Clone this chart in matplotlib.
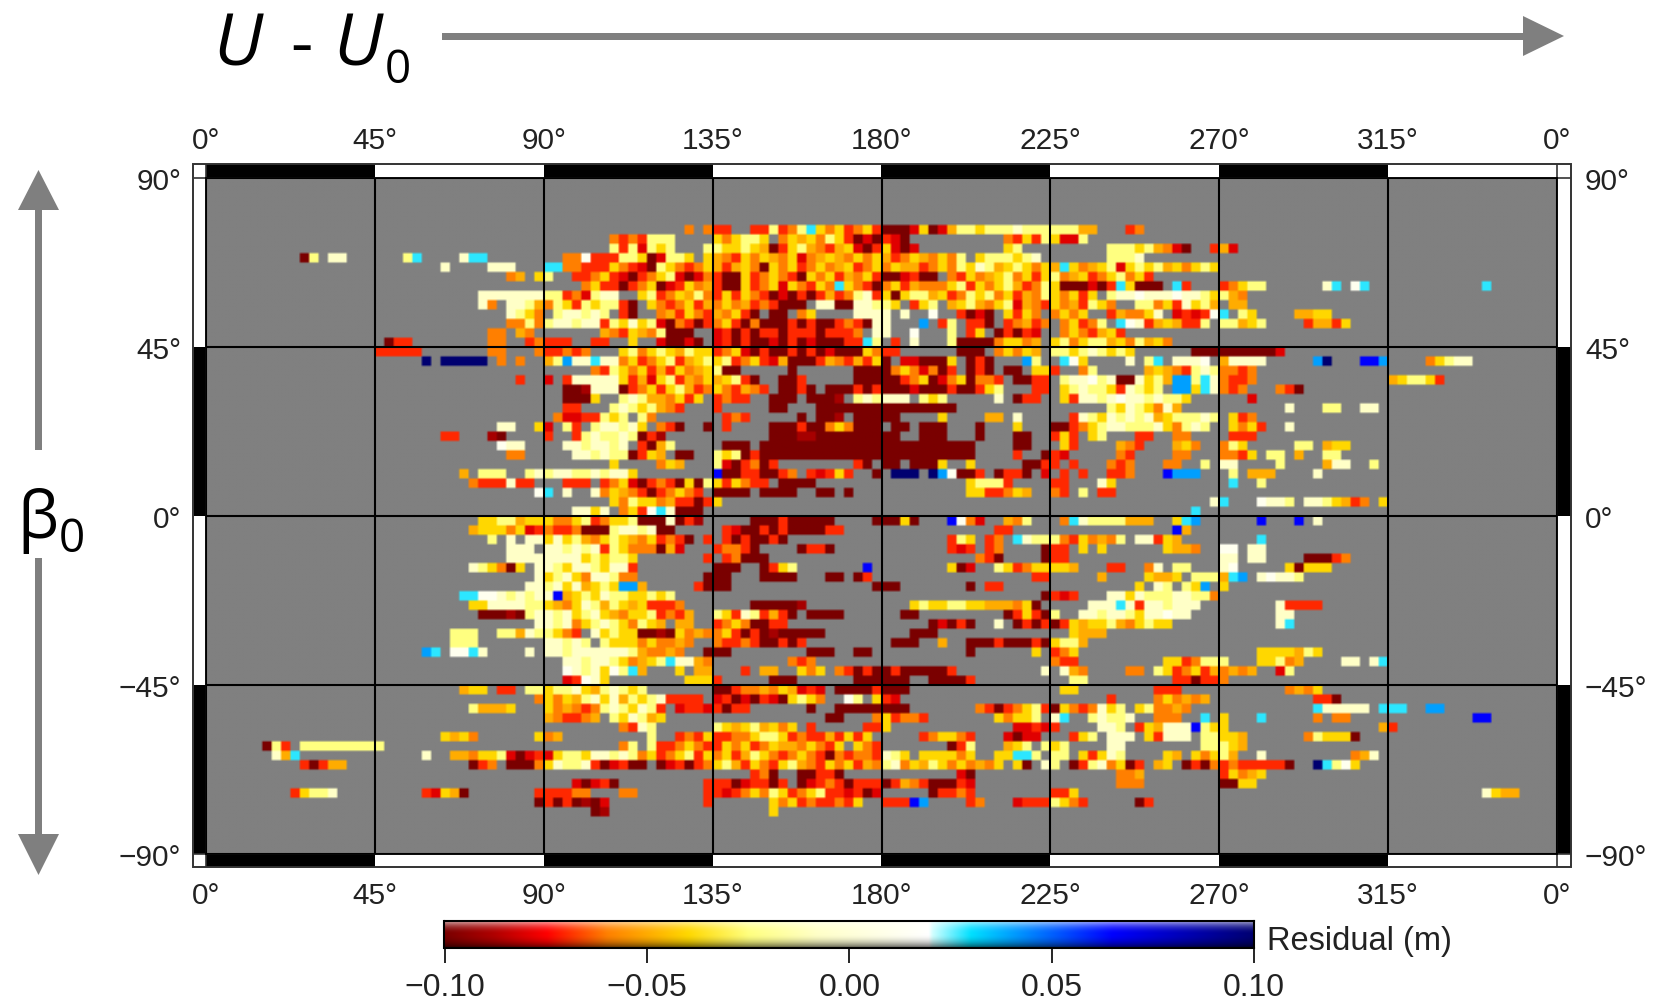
import numpy as np
import matplotlib
matplotlib.use("Agg")
import matplotlib.pyplot as plt
from matplotlib.colors import LinearSegmentedColormap
from matplotlib.patches import Rectangle, Polygon

W, H = 1657, 1005

# residual level (m) for each letter used in the rows below
level = dict(d=-0.10, D=-0.09, r=-0.08, R=-0.07, o=-0.06, g=-0.05, y=-0.04, l=-0.025,
             p=-0.008, w=0.012, c=0.028, s=0.04, b=0.065, n=0.10)

# (band centre latitude, [(start longitude, one letter per 2.5 degrees), ...])
residual_rows = [
 (76.25, [(127.5,"o"),(132.5,"oRR"),(145,"RR"),(150,"lRolcyoyRoyR"),(180,"dddrydrglly"),(207.5,"lllpllllll"),(232.5,"gg"),(245,"Ro")]),
 (73.75, [(107.5,"oRoRl"),(120,"ll"),(135,"yoylly"),(152.5,"oyg"),(160,"yolyR"),(172.5,"drdRrd"),(212.5,"oRyRl"),(225,"yrrl")]),
 (71.25, [(107.5,"lRlrlyl"),(132.5,"llyylyg"),(150,"dRylgoRgyrdRyrdr"),(212.5,"yl"),(240,"lllyl"),(252.5,"gord"),(267.5,"Rgr")]),
 (68.75, [(25,"dl"),(32.5,"pp"),(52.5,"lc"),(67.5,"pc"),(72.5,"c"),(95,"oow"),(102.5,"RRRllydrlly"),(132.5,"ygoRyoygoyrogygoyoygRoygoyol"),(205,"ylllylp"),(240,"lllp")]),
 (66.25, [(62.5,"p"),(75,"ppp"),(90,"cc"),(95,"ooRR"),(105,"RyoRrdlyoR"),(130,"oygRgyodyoyRoyogyRoyoyggRoyo"),(200,"lyplgylyoygcyogylrylylgyoyly")]),
 (63.75, [(80,"og"),(87.5,"yl"),(97.5,"R"),(100,"RoyRrdRoylrdroRd"),(140,"dyRoyoRdyoyRgoyRdyoRdd"),(182.5,"drRdd"),(197.5,"oRyogyloyRylogyRoyloyR")]),
 (61.25, [(100,"oyRRdRoydrRyogRd"),(140,"dyRoyryoRyocyoRdoyRgoo"),(195,"oylRyoylgRolydddrdRcy"),(247.5,"ddd"),(257.5,"cR"),(270,"Royll"),(297.5,"pc"),(305,"wc"),(340,"c")]),
 (58.75, [(72.5,"p"),(75,"ppppp"),(87.5,"pl"),(92.5,"lRorl"),(105,"pp"),(115,"ylRoygloRyR"),(142.5,"yoRdrdRdRgRolpRyd"),(185,"yllgyRolyloyRgolyoyRy"),(240,"lppwpppwpplyll"),(272.5,"go")]),
 (56.25, [(72.5,"po"),(80,"pplgol"),(92.5,"lyRlyll"),(110,"Rd"),(117.5,"yoRoyRgo"),(137.5,"yogRoRddd"),(162.5,"ppdd"),(172.5,"pplly"),(187.5,"Ryl"),(197.5,"gylgoylrgoRyogRlyo"),(247.5,"lloyRpylg"),(272.5,"gg")]),
 (53.75, [(80,"plyo"),(92.5,"lpplpl"),(110,"Rd"),(120,"ogRyoRgoy"),(142.5,"Rd"),(150,"dd"),(157.5,"oy"),(172.5,"pp"),(177.5,"pp"),(186,"p"),(192.5,"w"),(200,"Rdrd"),(212.5,"yRyo"),(225,"oyoy"),(240,"Rgo"),(247.5,"oyp"),(257.5,"rRrRr"),(267.5,"wc"),(275,"ly"),(290,"gg"),(295,"yy")]),
 (51.25, [(80,"oo"),(85,"lo"),(90,"lpplpp"),(105,"Rl"),(110,"ypyly"),(120,"rdoRdRoyRdo"),(147.5,"dddRdRddRoRdd"),(177.5,"pp"),(190,"s"),(195,"R"),(197.5,"l"),(202.5,"RRd"),(212.5,"RogRo"),(227.5,"oyRol"),(242.5,"cwpR"),(252.5,"gyg"),(260,"RRl"),(270,"llgyl"),(292.5,"Rgg"),(300,"Ry")]),
 (48.75, [(75,"oo"),(82.5,"go"),(105,"goRygol"),(122.5,"ddd"),(135,"rRdRdRRdR"),(157.5,"RRdRRR"),(172.5,"o"),(177.5,"pp"),(187.5,"w"),(197.5,"l"),(202.5,"Ry"),(210,"dRdRr"),(227.5,"oyoRgyR")]),
 (46.25, [(47.5,"dRR"),(75,"oo"),(85,"R"),(87.5,"oRRR"),(102.5,"RR"),(112.5,"y"),(120,"rddrd"),(135,"rRdRddrdRdrdddRRo"),(175,"cl"),(182.5,"R"),(187.5,"p"),(197.5,"l"),(200,"dddd"),(210,"oyyog"),(225,"yloyllgyolgyo")]),
 (43.75, [(45,"RRRRR"),(75,"oo"),(87.5,"oRRoRo"),(110,"yloylyglyylR"),(135,"RoyrdRddRdRdrdd"),(172.5,"dyoR"),(182.5,"R"),(200,"ddd"),(210,"oyoyg"),(225,"llylplyly"),(262.5,"dddddddddr")]),
 (41.25, [(57.5,"n"),(62.5,"nnnnn"),(77.5,"o"),(82.5,"o"),(90,"glsp"),(97.5,"ppcpp"),(110,"oyRoylRgyl"),(135,"ylRoyRrgdddRgoR"),(172.5,"gRg"),(177.5,"yd"),(185,"rr"),(190,"ddd"),(197.5,"y"),(202.5,"dRd"),(217.5,"s"),(220,"l"),(227.5,"cw"),(232.5,"y"),(245,"p"),(250,"lc"),(257.5,"ppp"),(265,"w"),(270,"gpppp"),(295,"sn"),(307.5,"bbs"),(325,"oyl"),(332.5,"pp")]),
 (38.75, [(102.5,"oRlyoyRgRyogyo"),(135,"ldd"),(155,"d"),(172.5,"dddd"),(182.5,"o"),(185,"yoro"),(195,"dR"),(202.5,"dRd"),(212.5,"dd"),(220,"yy"),(225,"R"),(232.5,"ol"),(250,"gygy"),(257.5,"oR"),(262.5,"lpl"),(270,"ooRo")]),
 (36.25, [(82.5,"R"),(90,"r"),(95,"Rpppp"),(107.5,"pyRgrylRgoy"),(135,"gylR"),(142.5,"Rd"),(152.5,"ddR"),(172.5,"ddd"),(180,"ddRoydroyd"),(205,"ooR"),(215,"dd"),(220,"RR"),(227.5,"lppwlplyp"),(242.5,"dd"),(250,"ylg"),(257.5,"ss"),(262.5,"lcp"),(270,"oRRo"),(315,"gyllyR")]),
 (33.75, [(95,"ddDpppp"),(110,"dRoyRylgRoy"),(137.5,"oRgoR"),(152.5,"ddRd"),(165,"dddRdRdd"),(180,"dddrdddRddlyl"),(205,"R"),(220,"RR"),(227.5,"ylpllyRplyl"),(257.5,"ssy"),(265,"cp"),(270,"oRo"),(285,"oRd")]),
 (31.25, [(95,"dddy"),(110,"lplg"),(120,"goy"),(127.5,"Ry"),(135,"RoRR"),(150,"ddd"),(160,"dddD"),(172.5,"lpl"),(180,"ppp"),(190,"lyl"),(210,"p"),(215,"dRR"),(227.5,"yRpplpwpplplly"),(277.5,"r")]),
 (28.75, [(95,"RR"),(107.5,"lplyl"),(120,"go"),(125,"R"),(135,"R"),(150,"dd"),(162.5,"dddddd"),(177.5,"dddddd"),(190,"dddd"),(240,"lyplyopg"),(287.5,"p"),(297.5,"ll"),(307.5,"pp")]),
 (26.25, [(92.5,"orrR"),(102.5,"Rlyl"),(115,"lo"),(137.5,"RoR"),(157.5,"d"),(162.5,"ddD"),(172.5,"dddd"),(180,"dd"),(195,"y"),(207.5,"gg"),(215,"p"),(230,"Rplyplpl"),(250,"pgylllpl"),(272,"yR"),(277.5,"o")]),
 (23.75, [(77.5,"pp"),(87.5,"y"),(90,"r"),(95,"lR"),(102.5,"lpplpy"),(120,"oRd"),(132.5,"d"),(137.5,"R"),(150,"ddd"),(157.5,"Rddoyo"),(172.5,"ddd"),(182.5,"dd"),(190,"ddd"),(205,"d"),(215,"y"),(225,"dd"),(230,"Roylpplll"),(252.5,"pyolpl"),(272.5,"yoyR"),(287.5,"p")]),
 (21.25, [(62.5,"RR"),(75,"Dd"),(90,"R"),(97.5,"R"),(100,"lpllpl"),(115,"dRD"),(150,"dddDDddd"),(170,"dddd"),(180,"dd"),(190,"ddd"),(205,"d"),(215,"dd"),(225,"RyR"),(235,"yl"),(247.5,"RR"),(257.5,"oo"),(272.5,"RRR")]),
 (18.75, [(77.5,"wpp"),(95,"pplpplp"),(115,"Rdgl"),(137.5,"d"),(140,"dd"),(147.5,"ddddddd"),(165,"dddddd"),(180,"dddddddddd"),(215,"dd"),(227.5,"yR"),(242.5,"goR"),(257.5,"gyo"),(270,"oly"),(290,"ll"),(297.5,"gyy")]),
 (16.25, [(80,"oo"),(97.5,"pplpll"),(112.5,"dRyg"),(125,"dd"),(135,"lyldRd"),(150,"dddddddddd"),(175,"dd"),(180,"dddddddddd"),(215,"R"),(222.5,"dRr"),(242.5,"oR"),(257.5,"oo"),(270,"ooRy"),(282.5,"ll"),(290,"g"),(297.5,"ll")]),
 (13.75, [(107.5,"y"),(120,"oyg"),(135,"l"),(137.5,"rdRodR"),(172.5,"Rd"),(180,"dd"),(187.5,"dddy"),(202.5,"y"),(217.5,"dd"),(222.5,"RR"),(230,"R"),(240,"oRo"),(255,"oo"),(265,"l"),(270,"pp"),(285,"l"),(297.5,"gpp"),(310,"l")]),
 (11.25, [(67.5,"g"),(72.5,"lll"),(85,"lplppllplp"),(110,"py"),(135,"b"),(137.5,"ddRRddRo"),(160,"RrRyR"),(177.5,"d"),(182.5,"n"),(185,"nn"),(192.5,"nsw"),(200,"ddR"),(210,"dRRd"),(222.5,"r"),(227.5,"R"),(232.5,"R"),(240,"RRo"),(255,"bs"),(260,"ss"),(272.5,"l"),(277.5,"ggg"),(295,"p")]),
 (8.75, [(70,"oRRRpRR"),(95,"RRR"),(105,"RoyrdRoRd"),(127.5,"ydlyRy"),(142.5,"oRR"),(152.5,"dddd"),(202.5,"ylllR"),(225,"RR"),(237.5,"p"),(240,"y"),(272.5,"c"),(280,"l")]),
 (6.25, [(87.5,"wc"),(95,"p"),(102.5,"poygoRdRoyoR"),(135,"dddd"),(147.5,"dddd"),(162.5,"dd"),(170,"d"),(202.5,"yyRR"),(212.5,"oyg"),(225,"oR"),(232.5,"l"),(237.5,"RR")]),
 (3.75, [(107.5,"yolyyog"),(125,"RRdR"),(135,"y"),(267.5,"pc"),(280,"wppl"),(292.5,"pplyg"),(305,"Ro"),(312.5,"y")]),
 (1.25, [(97.5,"ppyp"),(110,"oyR"),(117.5,"wcpp"),(125,"ddd"),(262.5,"c")]),
 (-1.25, [(72.5,"yyllgyyl"),(90,"yooylRoyyl"),(115,"dddp"),(125,"dRD"),(145,"dddRddddd"),(177.5,"dddyd"),(197.5,"bw"),(202.5,"o"),(205,"r"),(212.5,"gol"),(227.5,"oc"),(232.5,"plllly"),(245,"ggg"),(257.5,"ycs"),(280,"b"),(290,"b"),(295,"p")]),
 (-3.75, [(70,"gyyyoyrR"),(90,"oRRo"),(100,"ddd"),(107.5,"lpplp"),(120,"dd"),(137.5,"R"),(140,"rddRdRdddd"),(165,"RR"),(210,"RR"),(257.5,"b"),(260,"g")]),
 (-6.25, [(75,"l"),(80,"p"),(85,"p"),(87.5,"pypylgoyly"),(112.5,"goyRoRd"),(132.5,"R"),(137.5,"RdRddRd"),(197.5,"Rly"),(207.5,"Ro"),(215,"cpll"),(225,"lo"),(230,"Ryogol"),(247.5,"pp"),(252.5,"Ryg"),(280,"c")]),
 (-8.75, [(80,"ppp"),(90,"pplplpR"),(107.5,"lyol"),(115,"oo"),(120,"dgr"),(135,"Ro"),(140,"oRd"),(157.5,"dRRd"),(197.5,"RrR"),(207.5,"Ro"),(222.5,"dRR"),(232.5,"y"),(237.5,"y"),(255,"yggo"),(270,"ww"),(277.5,"pp")]),
 (-11.25, [(80,"pppp"),(90,"ppppyl"),(105,"ylly"),(132.5,"R"),(137.5,"Rod"),(145,"dd"),(205,"oR"),(210,"d"),(222.5,"dRR"),(270,"pp"),(277.5,"pp"),(292.5,"dddR"),(302.5,"o")]),
 (-13.75, [(70,"ply"),(77.5,"od"),(82.5,"y"),(87.5,"pplypplypp"),(112.5,"R"),(135,"ddd"),(147.5,"dRyl"),(175,"b"),(197.5,"ydr"),(210,"lyRoyyyyg"),(240,"RR"),(250,"op"),(257.5,"ll"),(270,"pw"),(287.5,"yd"),(292.5,"yy"),(297.5,"y")]),
 (-16.25, [(87.5,"pylpyoppl"),(110,"oo"),(132.5,"ddd"),(147.5,"dddd"),(165,"dd"),(172.5,"dR"),(220,"RR"),(237.5,"g"),(250,"yggy"),(262.5,"lll"),(270,"gcs"),(280,"pwppl")]),
 (-18.75, [(85,"pplpypgy"),(105,"lyl"),(110,"ss"),(115,"g"),(130,"R"),(132.5,"ddd"),(177.5,"ddd"),(202.5,"d"),(207.5,"R"),(210,"R"),(247.5,"y"),(252.5,"pl"),(260,"ly"),(265,"s"),(270,"y")]),
 (-21.25, [(67.5,"cc"),(72.5,"ww"),(77.5,"plpl"),(87.5,"ppbgylyplly"),(115,"ylyl"),(222.5,"dRrR"),(240,"ppyp"),(250,"ll"),(255,"lppl"),(265,"lo")]),
 (-23.75, [(70,"yy"),(75,"ppppl"),(87.5,"lygoyplgly"),(112.5,"gyRR"),(122.5,"Ro"),(145,"ddd"),(152.5,"ddD"),(187.5,"ylyyllyygggoy"),(220,"d"),(235,"pppcpRpplppp"),(285,"pp"),(287.5,"RRRR")]),
 (-26.25, [(72.5,"dddDd"),(85,"lpplpyl"),(102.5,"pygoyyl"),(120,"RoRg"),(135,"lyRpl"),(147.5,"RgRd"),(160,"dddd"),(185,"dd"),(212.5,"dRyRdl"),(232.5,"pplpplyppwpp"),(285,"pp")]),
 (-28.75, [(87.5,"pplpoy"),(102.5,"lplyo"),(115,"lyg"),(125,"gg"),(135,"Royod"),(147.5,"dRR"),(192.5,"drdRd"),(210,"p"),(215,"dRdRdR"),(230,"ygyylgoyl"),(252.5,"yy"),(285,"pc")]),
 (-31.25, [(65,"lll"),(77.5,"ll"),(82.5,"g"),(85,"pl"),(90,"lyoR"),(102.5,"pylyy"),(115,"ddD"),(122.5,"dyo"),(127.5,"ogo"),(135,"oyRdRd"),(150,"Ddd"),(157.5,"ddd"),(187.5,"ddd"),(230,"yggg")]),
 (-33.75, [(65,"lll"),(90,"pplpl"),(105,"lyy"),(112.5,"yoyo"),(122.5,"ogo"),(135,"oRRoRd"),(150,"dRdR"),(182.5,"ddd"),(195,"g"),(202.5,"dd"),(207.5,"dRdddRd"),(225,"yllg")]),
 (-36.25, [(57.5,"sc"),(65,"wwcp"),(72.5,"p"),(85,"p"),(90,"pplpppppplp"),(115,"googo"),(132.5,"ddd"),(160,"ddd"),(172.5,"dd"),(202.5,"d"),(220,"y"),(225,"Roy"),(280,"yyyygly")]),
 (-38.75, [(95,"pplpplyogy"),(120,"lcppgo"),(155,"oRo"),(225,"oRR"),(255,"yyRoy"),(265,"ll"),(270,"l"),(280,"yyl"),(287.5,"og"),(302.5,"pp"),(310,"pc")]),
 (-41.25, [(95,"wplp"),(105,"ywlc"),(115,"g"),(125,"y"),(130,"gg"),(142.5,"R"),(147.5,"gg"),(157.5,"yoy"),(167.5,"oRdRd"),(180,"dRd"),(185,"dddddR"),(222.5,"p"),(227.5,"p"),(230,"go"),(245,"oo"),(252.5,"lyRoyRgo"),(272.5,"gog"),(285,"rl")]),
 (-43.75, [(95,"rRwpy"),(127.5,"yy"),(132.5,"yR"),(150,"ddd"),(172.5,"dddd"),(182.5,"dd"),(192.5,"ddddR"),(230,"ll"),(257.5,"RRdR"),(267.5,"Ro")]),
 (-46.25, [(67.5,"gyy"),(77.5,"RR"),(85,"ll"),(90,"yllpyglpl"),(112.5,"yl"),(135,"ddRoog"),(150,"oyg"),(157.5,"rRr"),(167.5,"dddd"),(177.5,"Rdd"),(185,"d"),(227.5,"yy"),(252.5,"RR"),(257.5,"R"),(287.5,"ogoy")]),
 (-48.75, [(87.5,"o"),(90,"yoyglpypgly"),(117.5,"lpl"),(122.5,"RRRR"),(135,"rRdrdRrdyl"),(160,"yo"),(170,"wl"),(177.5,"yRr"),(240,"R"),(252.5,"oyog"),(262.5,"og"),(295,"RRd")]),
 (-51.25, [(70,"lgggy"),(90,"yogoRo"),(105,"lplyplR"),(125,"rRRrRdRR"),(160,"d"),(167.5,"ddd"),(175,"ddd"),(182.5,"dd"),(205,"oR"),(210,"dRoylRdyoRo"),(237.5,"pyl"),(247.5,"yl"),(252.5,"oogo"),(295,"c"),(297.5,"ppp"),(305,"pp"),(312.5,"ccc"),(325,"ss")]),
 (-53.75, [(90,"goRRog"),(107.5,"lypl"),(117.5,"gy"),(165,"dd"),(177.5,"oyRoo"),(190,"R"),(210,"yoyyl"),(225,"pc"),(235,"lpllp"),(252.5,"ooo"),(265,"c"),(270,"y"),(280,"c"),(295,"o"),(300,"oo"),(337.5,"bb")]),
 (-56.25, [(110,"oRpl"),(135,"lygylgyoy"),(160,"R"),(175,"RRy"),(215,"rrRrR"),(237.5,"ppl"),(247.5,"Ryg"),(255,"ppp"),(262.5,"b"),(265,"ly"),(270,"y"),(312.5,"gR")]),
 (-58.75, [(62.5,"ygyo"),(87.5,"yog"),(117.5,"l"),(125,"RoRyRRooyllyRoRRgRy"),(172.5,"Ry"),(190,"RoyyoR"),(212.5,"rdrr"),(230,"Ryl"),(240,"ppp"),(250,"yRy"),(255,"ppp"),(265,"lly"),(272.5,"yg"),(292.5,"olyyyd")]),
 (-61.25, [(15,"d"),(17.5,"lR"),(25,"lllllllll"),(110,"ol"),(117.5,"l"),(120,"RRoyoRRyoyRoyggoyoRy"),(172.5,"yoR"),(197.5,"dRl"),(212.5,"gyl"),(222.5,"lyl"),(240,"pp"),(265,"lll"),(272.5,"yg")]),
 (-63.75, [(17.5,"pgc"),(57.5,"p"),(65,"ggoyyl"),(80,"rdrRr"),(92.5,"yl"),(97.5,"lypplpl"),(115,"oyRoylRyoyRglyoRoyoRdoRoyRo"),(175,"o"),(180,"ply"),(190,"yyyyoy"),(210,"y"),(212.5,"yccl"),(225,"ll"),(232.5,"yRy"),(240,"pl"),(255,"yg"),(262.5,"yoylg"),(280,"p"),(305,"ogp")]),
 (-66.25, [(25,"RdRgg"),(70,"dRo"),(80,"ddd"),(87.5,"oypl"),(97.5,"lpRdrR"),(112.5,"dd"),(120,"drRd"),(130,"RoylgRyoRylgoRyoyRgolyRgo"),(180,"lpoyglyoyogoy"),(215,"yd"),(222.5,"pl"),(230,"dRlpoydR"),(252.5,"gy"),(260,"dRdoRoR"),(275,"RRRRRd"),(295,"nclwy")]),
 (-68.75, [(145,"Rod"),(157.5,"ddR"),(165,"Rd"),(200,"rd"),(242.5,"oog"),(270,"Ryog"),(280,"y")]),
 (-71.25, [(97.5,"rdrRd"),(132.5,"RRRdrRRdR"),(157.5,"drRoRdRRRdR"),(180,"d"),(185,"goRdddRr"),(242.5,"ooo"),(270,"ddy"),(277.5,"y")]),
 (-73.75, [(22.5,"Ryllp"),(57.5,"Rrygd"),(67.5,"d"),(87.5,"RRRRoo"),(110,"oo"),(132.5,"RRrRoyol"),(152.5,"yRoylRRrRdo"),(177.5,"r"),(192.5,"dRRoR"),(225,"RRy"),(340,"pygg")]),
 (-76.25, [(87.5,"dRdR"),(97.5,"dDdr"),(132.5,"R"),(150,"yoyRoRRoRy"),(180,"RRRw"),(187.5,"bs"),(202.5,"Ro"),(215,"rRRRlyoR"),(247.5,"d"),(250,"R")]),
 (-78.75, [(102.5,"dD"),(150,"y")]),
]

lat_ticks = [90, 45, 0, -45, -90]
lon_ticks = [0, 45, 90, 135, 180, 225, 270, 315, 360]
lon_labels = ["0°", "45°", "90°", "135°", "180°", "225°", "270°", "315°", "0°"]
lat_labels = ["90°", "45°", "0°", "\u221245°", "\u221290°"]
cbar_ticks = [-0.10, -0.05, 0.00, 0.05, 0.10]
cbar_labels = ["\u22120.10", "\u22120.05", "0.00", "0.05", "0.10"]
cbar_title = "Residual (m)"

lons = np.arange(0, 360.1, 2.5)
lats = np.arange(-90, 90.1, 2.5)
grid = np.full((len(lats) - 1, len(lons) - 1), np.nan)
for lat, segments in residual_rows:
    i = int(np.floor((lat + 90) / 2.5))
    for start, codes in segments:
        j0 = int(round(start / 2.5))
        for k, ch in enumerate(codes):
            grid[i, j0 + k] = level[ch]

pos = [(-0.10, "#7a0000"), (-0.088, "#b00000"), (-0.075, "#ff0000"), (-0.06, "#ff8000"),
       (-0.04, "#ffd800"), (-0.025, "#ffff80"), (-0.008, "#ffffc8"), (0.0195, "#ffffff"),
       (0.0205, "#d0ffff"), (0.03, "#00e0ff"), (0.04, "#00a0ff"), (0.065, "#0000ff"), (0.10, "#000070")]
cmap = LinearSegmentedColormap.from_list("resid", [((v + 0.1) / 0.2, c) for v, c in pos], N=512)
cmap.set_bad("#808080")

fig = plt.figure(figsize=(W / 100, H / 100), dpi=100, facecolor="white")
plt.rcParams["font.family"] = ["Liberation Sans", "DejaVu Sans"]
label_color = "#222222"

def axpx(x0, y0, x1, y1):
    return fig.add_axes([x0 / W, 1 - y1 / H, (x1 - x0) / W, (y1 - y0) / H])

def tpx(x, y, s, **kw):
    return fig.text(x / W, 1 - y / H, s, **kw)

# outer frame with checkered border
L0, R0, T0, B0 = 193.5, 1571, 164, 867
L, R, T, B = 206, 1557, 178, 854
frame = axpx(L0, T0, R0, B0)
frame.set_xlim(L0, R0); frame.set_ylim(B0, T0); frame.axis("off")
frame.add_patch(Rectangle((L0, T0), R0 - L0, B0 - T0, fc="white", ec="#333333", lw=1.4, clip_on=False, zorder=3))
frame.patches[0].set_facecolor("none")
sx = (R - L) / 8
for n in range(0, 8, 2):
    for yb, hb in ((T0, T - T0), (B, B0 - B)):
        frame.add_patch(Rectangle((L + n * sx, yb), sx, hb, fc="black", ec="none"))
sy = (B - T) / 4
for n in (1, 3):
    for xb, wb in ((L0, L - L0), (R, R0 - R)):
        frame.add_patch(Rectangle((xb, T + n * sy), wb, sy, fc="black", ec="none"))
# band edges run the full length of the frame
for xb in (L, R):
    frame.plot([xb, xb], [T0, B0], color="#333333", lw=1.2)
for yb in (T, B):
    frame.plot([L0, R0], [yb, yb], color="#333333", lw=1.2)

ax = axpx(L, T, R, B)
ax.set_xlim(0, 360); ax.set_ylim(-90, 90)
ax.set_facecolor("#808080")
# soft-edged raster: each cell repeated, then smoothed slightly on display
fine = np.repeat(np.repeat(grid, 4, axis=0), 4, axis=1)
ax.imshow(np.ma.masked_invalid(fine), cmap=cmap, vmin=-0.1, vmax=0.1, origin="lower",
          extent=(0, 360, -90, 90), aspect="auto", interpolation="bilinear", interpolation_stage="rgba")
ax.set_xticks([]); ax.set_yticks([])
for x in lon_ticks:
    ax.axvline(x, color="black", lw=1.5)
for y in lat_ticks:
    ax.axhline(y, color="black", lw=1.5)
for s in ax.spines.values():
    s.set_linewidth(1.2)

for lon, lab in zip(lon_ticks, lon_labels):
    x = L + lon / 360 * (R - L)
    tpx(x, 141, lab, ha="center", va="center", fontsize=21.5, color=label_color)
    tpx(x, 896, lab, ha="center", va="center", fontsize=21.5, color=label_color)
for lat, lab in zip(lat_ticks, lat_labels):
    y = T + (90 - lat) / 180 * (B - T) + 4
    tpx(181, y, lab, ha="right", va="center", fontsize=21.5, color=label_color)
    tpx(1585, y, lab, ha="left", va="center", fontsize=21.5, color=label_color)

# colour bar with shaded top and bottom
cb = axpx(444.5, 921, 1254, 948)
v = np.linspace(0, 1, 512)
rgb = cmap(v)[:, :3]
shade = np.linspace(-1, 1, 24)
img = np.zeros((24, 512, 3))
for r, s in enumerate(shade):
    if s < 0:
        img[r] = rgb + (1 - rgb) * (-s) ** 2 * 0.7
    else:
        img[r] = rgb * (1 - s ** 2 * 0.6)
cb.imshow(img, extent=(-0.1, 0.1, 0, 1), aspect="auto", origin="upper", interpolation="bilinear")
cb.set_yticks([])
cb.set_xticks(cbar_ticks)
cb.set_xticklabels(cbar_labels, fontsize=23, color=label_color)
cb.tick_params(axis="x", length=11, width=1.2, pad=7)
for s in cb.spines.values():
    s.set_linewidth(1.5)
tpx(1267, 941, cbar_title, ha="left", va="center", fontsize=23.5, color=label_color)

# annotation arrows and labels
over = fig.add_axes([0, 0, 1, 1], zorder=5)
over.set_xlim(0, W); over.set_ylim(H, 0); over.axis("off")
gray = "#7f7f7f"
over.add_patch(Rectangle((442, 32.5), 1084, 7, fc=gray, ec="none"))
over.add_patch(Polygon([(1523, 16), (1564, 36), (1523, 56)], fc=gray, ec="none"))
over.add_patch(Rectangle((35, 205), 7, 245, fc=gray, ec="none"))
over.add_patch(Rectangle((35, 558), 7, 280, fc=gray, ec="none"))
over.add_patch(Polygon([(18, 210), (38.5, 170), (59, 210)], fc=gray, ec="none"))
over.add_patch(Polygon([(18, 834), (38.5, 875), (59, 834)], fc=gray, ec="none"))

sans = ["Open Sans", "DejaVu Sans"]
tpx(213, 66, "U", family=sans, style="italic", fontsize=52, ha="left", va="baseline", color="black")
tpx(290, 66, "-", family=sans, fontsize=50, ha="left", va="baseline", color="black")
tpx(333, 66, "U", family=sans, style="italic", fontsize=52, ha="left", va="baseline", color="black")
tpx(385, 83, "0", family=sans, fontsize=33, ha="left", va="baseline", color="black")
tpx(17, 538, "β", family=sans, fontsize=47, ha="left", va="baseline", color="black")
tpx(59, 552, "0", family=sans, fontsize=33, ha="left", va="baseline", color="black")

fig.savefig("out.png", dpi=100)
